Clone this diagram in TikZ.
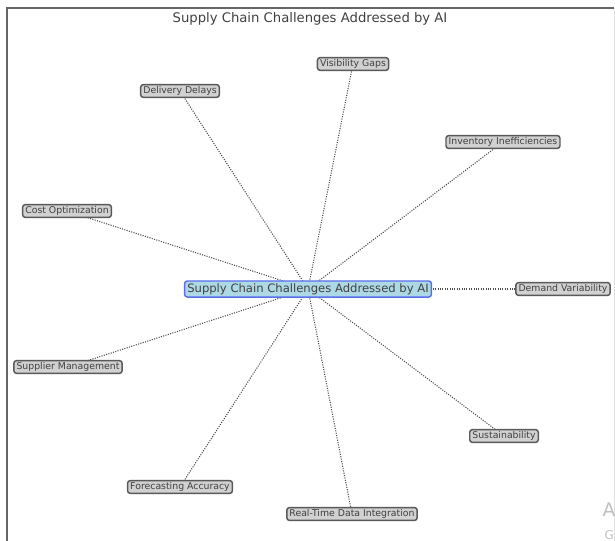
\documentclass[tikz,border=0pt]{standalone}
\usepackage{fontspec}
\setmainfont{DejaVu Sans}
\usetikzlibrary{backgrounds}
\definecolor{hubfill}{RGB}{173,216,230}
\definecolor{hubdraw}{RGB}{90,110,235}
\begin{document}
\begin{tikzpicture}[x=0.75pt,y=-0.75pt,
  leaf/.style={draw=black!65,fill=black!18,line width=1.1pt,rounded corners=2pt,
    inner xsep=2pt,inner ysep=1.4pt,font=\fontsize{7pt}{7pt}\selectfont,text=black!75},
  hub/.style={draw=hubdraw,fill=hubfill,line width=1.1pt,rounded corners=2pt,
    inner xsep=2pt,inner ysep=1.8pt,font=\fontsize{8.7pt}{9pt}\selectfont,text=black!75},
  link/.style={densely dotted,line width=0.8pt,black!70}]
\useasboundingbox (0,0) rectangle (615,540);
\draw[black!60,line width=1.4pt] (7,545) -- (7,8) -- (614,8);
\draw[black!12,line width=0.6pt] (614,8) -- (614,545);
\node (title) at (310,19) {\fontsize{9.9pt}{10pt}\selectfont\color{black!75}Supply Chain Challenges Addressed by AI};
\node[hub] (c) at (308,289) {Supply Chain Challenges Addressed by AI};
\node[leaf] (vg) at (353,64) {Visibility Gaps};
\node[leaf] (dd) at (180,91) {Delivery Delays};
\node[leaf] (ii) at (503,142) {Inventory Inefficiencies};
\node[leaf] (co) at (67,211) {Cost Optimization};
\node[leaf] (dv) at (563,289) {Demand Variability};
\node[leaf] (sm) at (68,367) {Supplier Management};
\node[leaf] (su) at (504,436) {Sustainability};
\node[leaf] (fa) at (180,487) {Forecasting Accuracy};
\node[leaf] (rt) at (352,514) {Real-Time Data Integration};
\begin{scope}[on background layer]
\foreach \n in {vg,dd,ii,co,dv,sm,su,fa,rt} \draw[link] (c.center) -- (\n.center);
\end{scope}
\node[anchor=west,text=black!25,font=\fontsize{14pt}{14pt}\selectfont] (wa) at (598,510) {A};
\node[anchor=west,text=black!25,font=\fontsize{9pt}{9pt}\selectfont] (wg) at (600,535) {G};
\end{tikzpicture}
\end{document}
